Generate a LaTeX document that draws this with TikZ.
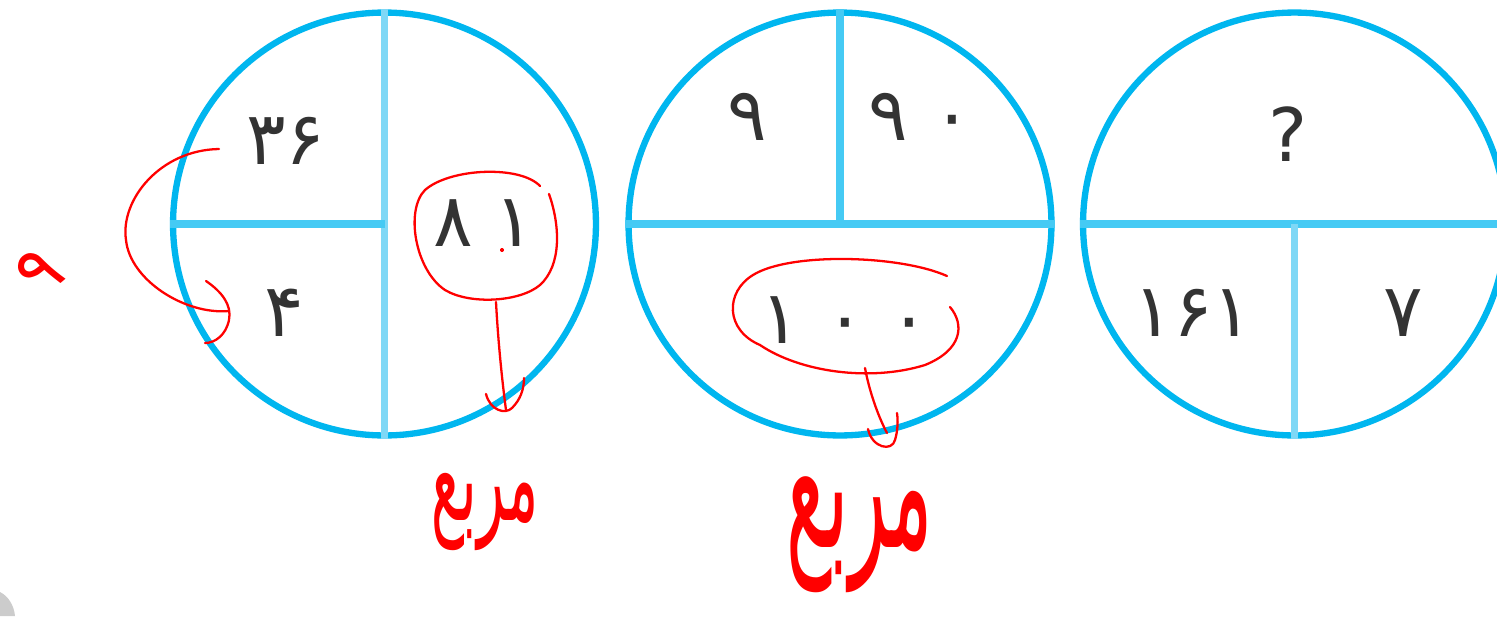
\documentclass[tikz,border=0pt]{standalone}
\usepackage{fontspec}
\newfontfamily\fa[Script=Arabic]{DejaVu Sans}
\TeXXeTstate=1
\definecolor{ring}{HTML}{00B6EF}
\definecolor{lineA}{HTML}{45CAF4}
\definecolor{lineB}{HTML}{7FD8F6}
\definecolor{pen}{HTML}{FF0000}
\tikzset{
  ring/.style={circle, draw=ring, line width=3.6pt, minimum size=8.46cm, inner sep=0pt},
  divA/.style={draw=lineA, line width=4pt},
  divB/.style={draw=lineB, line width=4pt},
  num/.style={inner sep=0pt, text=black!80, font=\fa\fontsize{42}{46}\selectfont},
  pen/.style={draw=pen, line width=1.3pt, line cap=round, line join=round},
  hand/.style={inner sep=0pt, text=pen, font=\fa\fontsize{30}{34}\selectfont}
}
\begin{document}
\begin{tikzpicture}[x=0.02cm, y=-0.02cm]
\useasboundingbox (0,0) rectangle (1497,616);
\clip (0,0) rectangle (1497,616);
\fill[white] (0,0) rectangle (1497,616);
% gray blob
\fill[black!20] (0,592) .. controls (8,596) and (14,605) .. (15,616) -- (0,616) -- cycle;
% circles
\node[ring] (c1) at (384.5,224) {};
\node[ring] (c2) at (840,224) {};
\node[ring] (c3) at (1294.5,224) {};
% dividers circle 1
\coordinate (c1m) at (384.5,224);
\path[divB] (c1.north) -- (c1.south);
\path[divA] (c1.west) -- (c1m);
% circle 2
\coordinate (c2m) at (840,224);
\path[divA] (c2.west) -- (c2.east);
\path[divA] (c2.north) -- (c2m);
% circle 3
\coordinate (c3m) at (1294.5,224);
\path[divA] (c3.west) -- (c3.east);
\path[divB] (c3m) -- (c3.south);
% numbers
\node[num] (n36) at (286,141) {۳۶};
\node[num] (n4) at (284,313) {۴};
\node[num] (n81) at (484,223) {۸\hspace{12pt}۱};
\node[num] (n9) at (747,117) {۹};
\node[num] (n90) at (920,117) {۹\hspace{14pt}۰};
\node[num] (n100) at (845,320) {۱\hspace{14pt}۰\hspace{14pt}۰};
\node[num] (q) at (1288,134) {?};
\node[num] (n161) at (1193,313) {۱۶۱};
\node[num] (n7) at (1403,313) {۷};
% red annotations
\path[pen] (219,149) .. controls (160,150) and (120,200) .. (126,240)
  .. controls (130,280) and (185,315) .. (229,311);
\path[pen] (206,281) .. controls (222,292) and (232,305) .. (229,320)
  .. controls (226,335) and (215,343) .. (205,343);
\node[hand, rotate=40, font=\fa\fontsize{40}{44}\selectfont] (h9) at (40,272) {۹};
% ellipse around 81
\path[pen] (540,186) .. controls (520,165) and (450,168) .. (425,190)
  .. controls (405,210) and (415,270) .. (445,290)
  .. controls (470,305) and (520,302) .. (540,285)
  .. controls (562,265) and (560,225) .. (549,194);
\fill[pen] (502,250) circle (1);
\path[pen] (496,302) .. controls (498,340) and (502,380) .. (506,410);
\path[pen] (486,394) .. controls (490,410) and (505,415) .. (512,408)
  .. controls (520,400) and (524,390) .. (524,378);
\node[hand, yscale=2.2, font=\fa\fontsize{32}{36}\selectfont] (w1) at (485,512) {\beginR مربع\endR};
% ellipse around 100
\path[pen] (947,276) .. controls (900,255) and (790,252) .. (753,275)
  .. controls (725,292) and (725,330) .. (760,345)
  .. controls (800,372) and (870,382) .. (925,365)
  .. controls (962,350) and (965,325) .. (950,307);
\path[pen] (865,368) .. controls (870,395) and (880,420) .. (887,433);
\path[pen] (868,429) .. controls (872,448) and (892,452) .. (895,440)
  .. controls (898,430) and (898,420) .. (897,413);
\node[hand, yscale=2.4, font=\fa\fontsize{44}{48}\selectfont] (w2) at (860,535) {\beginR مربع\endR};
\end{tikzpicture}
\end{document}
